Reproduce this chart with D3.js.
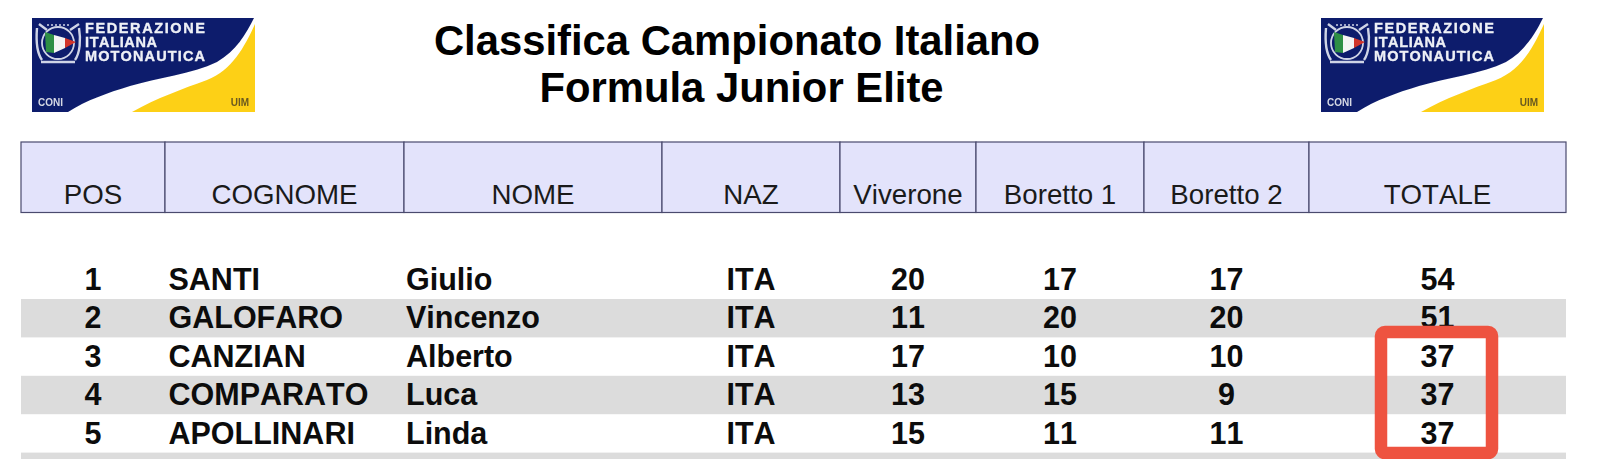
<!DOCTYPE html>
<html lang="en">
<head>
<title>Classifica Campionato Italiano</title>
<meta charset="utf-8">
<script src="https://d3js.org/d3.v7.min.js"></script>
<style type="text/css">
  html, body { margin: 0; padding: 0; background: #fff; overflow: hidden; }
  svg { display: block; }
  text { font-family: 'Liberation Sans', Arial, sans-serif; font-kerning: none; }
</style>
</head>
<body>
<div id="chart"></div>
<script>

/* Data */
/* ==== */

var titleLines = ['Classifica Campionato Italiano', 'Formula Junior Elite'];
var headers = ['POS', 'COGNOME', 'NOME', 'NAZ', 'Viverone', 'Boretto 1', 'Boretto 2', 'TOTALE'];

var positions = [1, 2, 3, 4, 5];
var surnames = ['SANTI', 'GALOFARO', 'CANZIAN', 'COMPARATO', 'APOLLINARI'];
var names = ['Giulio', 'Vincenzo', 'Alberto', 'Luca', 'Linda'];
var nations = ['ITA', 'ITA', 'ITA', 'ITA', 'ITA'];
var viverone = [20, 11, 17, 13, 15];
var boretto1 = [17, 20, 10, 15, 11];
var boretto2 = [17, 20, 10, 9, 11];
var totals = [54, 51, 37, 37, 37];

var highlighted = [3, 5]; // first and last position inside the red box


/* Layout */
/* ====== */

var width = 1600,
    height = 459;

var columnEdges = [21, 165, 404, 662, 840, 976, 1144, 1309, 1566];

// One extra band: the sixth row is cut off by the bottom of the picture
var rowIds = d3.range(1, 7);
var rowHeight = 38.4;

var y = d3.scaleBand()
    .domain(rowIds)
    .range([260.6, 260.6 + rowHeight * rowIds.length]);

var x = d3.scaleOrdinal()
    .domain(headers)
    .range(columnEdges.slice(0, -1));

function colStart(name) { return x(name); }
function colEnd(name) { return columnEdges[headers.indexOf(name) + 1]; }
function colMid(name) { return (colStart(name) + colEnd(name)) / 2; }

var svg = d3.select('#chart').append('svg')
    .attr('width', width)
    .attr('height', height);

// The logo in the reference is a small, soft bitmap
svg.append('defs').append('filter')
    .attr('id', 'soft')
    .append('feGaussianBlur')
    .attr('stdDeviation', 0.45);


/* Logo */
/* ==== */

function drawLogo(left, top) {

  var g = svg.append('g')
      .attr('transform', 'translate(' + left + ',' + top + ')')
      .attr('filter', 'url(#soft)');

  g.append('path')
      .attr('fill', '#0c1c6c')
      .attr('d', 'M0,0 L222,0 C214,16 204,33 185,44 C160,56 125,60 98,68 C75,75 55,82 36,94 L0,94 Z');

  g.append('path')
      .attr('fill', '#fdd017')
      .attr('d', 'M223,6 L223,94 L100,94 C125,80 150,71 175,62 C200,52 212,30 223,6 Z');

  // Emblem
  var emblem = g.append('g').attr('fill', 'none').attr('stroke', '#cfd4e6');
  emblem.append('circle').attr('cx', 26).attr('cy', 25).attr('r', 16).attr('stroke-width', 1.8);
  emblem.append('path').attr('stroke-width', 2.4).attr('d', 'M7,6 L15,12 M47,6 L38,12 M5,10 C4,22 5,35 10,42 M47,10 C49,22 48,35 43,42 M9,44 L43,44');
  emblem.append('path').attr('stroke-width', 1.6).attr('stroke-dasharray', '2 2').attr('d', 'M15,7 L37,7');

  g.append('path').attr('fill', '#2f8f45').attr('d', 'M13,14 L22,17 L22,35 L14,34 Z');
  g.append('path').attr('fill', '#f4f4f4').attr('d', 'M22,17 L33,20 L33,30 L22,35 Z');
  g.append('path').attr('fill', '#d2352c').attr('d', 'M33,20 L44,24 L33,30 Z');

  // Name
  var logoLines = [
    { text: 'FEDERAZIONE', dy: 15, w: 120 },
    { text: 'ITALIANA', dy: 29, w: 72 },
    { text: 'MOTONAUTICA', dy: 43, w: 120 }
  ];

  g.selectAll('text.name')
    .data(logoLines)
    .enter().append('text')
      .attr('class', 'name')
      .attr('x', 53)
      .attr('y', function(d) { return d.dy; })
      .attr('textLength', function(d) { return d.w; })
      .attr('lengthAdjust', 'spacing')
      .attr('font-size', 14.5)
      .attr('font-weight', 'bold')
      .attr('fill', '#eef0f6')
      .attr('stroke', '#eef0f6')
      .attr('stroke-width', 0.35)
      .text(function(d) { return d.text; });

  g.append('text').attr('x', 6).attr('y', 88)
      .attr('font-size', 10).attr('font-weight', 'bold').attr('fill', '#d6d8e4').text('CONI');

  g.append('text').attr('x', 217).attr('y', 88).attr('text-anchor', 'end')
      .attr('font-size', 10).attr('font-weight', 'bold').attr('fill', '#6a5a20').text('UIM');
}

drawLogo(32, 18);
drawLogo(1321, 18);


/* Title */
/* ===== */

svg.selectAll('text.title')
  .data(titleLines)
  .enter().append('text')
    .attr('class', 'title')
    .attr('x', function(d, i) { return i === 0 ? 737 : 741.5; })
    .attr('y', function(d, i) { return 55 + i * 46.5; })
    .attr('text-anchor', 'middle')
    .attr('font-size', 41.8)
    .attr('font-weight', 'bold')
    .attr('fill', '#000')
    .text(function(d) { return d; });


/* Header */
/* ====== */

var headerTop = 142,
    headerBottom = 212.5;

svg.selectAll('rect.head')
  .data(headers)
  .enter().append('rect')
    .attr('class', 'head')
    .attr('x', colStart)
    .attr('y', headerTop)
    .attr('width', function(d) { return colEnd(d) - colStart(d); })
    .attr('height', headerBottom - headerTop)
    .attr('fill', '#e3e3fb')
    .attr('stroke', '#4a4a6e')
    .attr('stroke-width', 1.2);

svg.selectAll('text.head')
  .data(headers)
  .enter().append('text')
    .attr('class', 'head')
    .attr('x', colMid)
    .attr('y', 204)
    .attr('text-anchor', 'middle')
    .attr('font-size', 27.7)
    .attr('fill', '#1a1a1a')
    .text(function(d) { return d; });


/* Rows */
/* ==== */

svg.selectAll('rect.band')
  .data(rowIds.filter(function(d) { return d % 2 === 0; }))
  .enter().append('rect')
    .attr('class', 'band')
    .attr('x', columnEdges[0])
    .attr('y', y)
    .attr('width', columnEdges[columnEdges.length - 1] - columnEdges[0])
    .attr('height', y.bandwidth())
    .attr('fill', '#dcdcdc');

var columns = [
  { head: 'POS', values: positions, anchor: 'middle' },
  { head: 'COGNOME', values: surnames, anchor: 'start', dx: 3.5 },
  { head: 'NOME', values: names, anchor: 'start', dx: 2 },
  { head: 'NAZ', values: nations, anchor: 'middle' },
  { head: 'Viverone', values: viverone, anchor: 'middle' },
  { head: 'Boretto 1', values: boretto1, anchor: 'middle' },
  { head: 'Boretto 2', values: boretto2, anchor: 'middle' },
  { head: 'TOTALE', values: totals, anchor: 'middle' }
];

columns.forEach(function(col) {
  svg.selectAll('text.c' + headers.indexOf(col.head))
    .data(col.values)
    .enter().append('text')
      .attr('class', 'c' + headers.indexOf(col.head))
      .attr('x', col.anchor === 'start' ? colStart(col.head) + col.dx : colMid(col.head))
      .attr('y', function(d, i) { return y(positions[i]) + 29.3; })
      .attr('text-anchor', col.anchor)
      .attr('font-size', 30.5)
      .attr('font-weight', 'bold')
      .attr('fill', '#0c0c0c')
      .text(function(d) { return d; });
});


/* Red box */
/* ======= */

var boxTop = y(highlighted[0]) - 5.5,
    boxBottom = y(highlighted[1]) + y.bandwidth() + 0.5;

svg.append('rect')
    .attr('x', 1381)
    .attr('y', boxTop)
    .attr('width', 111)
    .attr('height', boxBottom - boxTop)
    .attr('rx', 4)
    .attr('fill', 'none')
    .attr('stroke', '#ee5340')
    .attr('stroke-width', 12.5);

</script>
</body>
</html>
